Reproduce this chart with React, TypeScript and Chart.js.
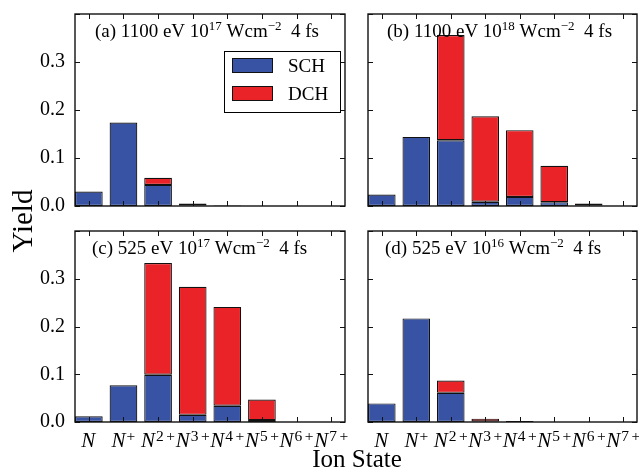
import React, { useEffect, useRef } from 'react';
import { Chart, registerables } from 'chart.js';

Chart.register(...registerables);

// ---- data ----
const chargeLabels = ['', '+', '2+', '3+', '4+', '5+', '6+', '7+'];
const yTickValues = [0, 0.1, 0.2, 0.3];
const seriesNames = ['SCH', 'DCH'];

const schA = [0.030, 0.174, 0.044, 0.001, 0.001, 0, 0, 0];
const dchA = [0, 0, 0.015, 0.004, 0, 0, 0, 0];
const schB = [0.024, 0.144, 0.137, 0.009, 0.019, 0.008, 0.001, 0];
const dchB = [0, 0, 0.219, 0.178, 0.139, 0.076, 0.004, 0];
const schC = [0.012, 0.077, 0.099, 0.015, 0.034, 0.004, 0, 0];
const dchC = [0, 0, 0.234, 0.268, 0.207, 0.043, 0, 0];
const schD = [0.039, 0.217, 0.061, 0.001, 0.002, 0, 0, 0];
const dchD = [0, 0, 0.026, 0.006, 0, 0, 0, 0];

const titleA: [string, boolean][] = [['(a) 1100 eV 10', false], ['17', true], [' Wcm', false], ['\u22122', true], ['  4 fs', false]];
const titleB: [string, boolean][] = [['(b) 1100 eV 10', false], ['18', true], [' Wcm', false], ['\u22122', true], ['  4 fs', false]];
const titleC: [string, boolean][] = [['(c) 525 eV 10', false], ['17', true], [' Wcm', false], ['\u22122', true], ['  4 fs', false]];
const titleD: [string, boolean][] = [['(d) 525 eV 10', false], ['16', true], [' Wcm', false], ['\u22122', true], ['  4 fs', false]];

// ---- style / layout ----
const W = 639;
const H = 471;
const BLUE = '#3953a4';
const RED = '#ea2328';
const SERIF = '"Liberation Serif", "Times New Roman", serif';
const X_MAX = 7.8;
const Y_AXIS_W = 70;

const panels = [
  { sch: schA, dch: dchA, title: titleA, box: { l: 75, r: 345, t: 14, b: 206 }, titleDx: 20, yLabels: true, xLabels: false, legend: true, global: true },
  { sch: schB, dch: dchB, title: titleB, box: { l: 368, r: 637, t: 14, b: 206 }, titleDx: 19, yLabels: false, xLabels: false, legend: false, global: false },
  { sch: schC, dch: dchC, title: titleC, box: { l: 75, r: 345, t: 231, b: 422 }, titleDx: 17, yLabels: true, xLabels: true, legend: false, global: false },
  { sch: schD, dch: dchD, title: titleD, box: { l: 368, r: 637, t: 231, b: 422 }, titleDx: 17, yLabels: false, xLabels: true, legend: false, global: false },
];

function drawRich(ctx: CanvasRenderingContext2D, parts: [string, boolean][], x: number, y: number, nf: string, sf: string, rise: number) {
  let cx = x;
  for (const [t, sup] of parts) {
    ctx.font = sup ? sf : nf;
    ctx.fillText(t, cx, sup ? y - rise : y);
    cx += ctx.measureText(t).width;
  }
}

const decorPlugin = {
  id: 'decor',
  afterDraw(chart: any) {
    const cfg = chart.options.plugins.decor;
    const ctx: CanvasRenderingContext2D = chart.ctx;
    const ca = chart.chartArea;
    const xs = chart.scales.x;
    const ys = chart.scales.y;
    ctx.save();
    // inward tick marks
    ctx.strokeStyle = '#111';
    ctx.lineWidth = 1;
    ctx.beginPath();
    for (const t of ys.ticks) {
      const py = Math.round(ys.getPixelForValue(t.value)) + 0.5;
      ctx.moveTo(ca.left, py); ctx.lineTo(ca.left + 5, py);
      ctx.moveTo(ca.right, py); ctx.lineTo(ca.right - 5, py);
    }
    for (const t of xs.ticks) {
      const px = Math.round(xs.getPixelForValue(t.value)) + 0.5;
      ctx.moveTo(px, ca.bottom); ctx.lineTo(px, ca.bottom - 5);
      ctx.moveTo(px, ca.top); ctx.lineTo(px, ca.top + 5);
    }
    ctx.stroke();
    // frame
    ctx.lineWidth = 1.4;
    ctx.strokeStyle = '#111';
    ctx.strokeRect(ca.left, ca.top, ca.right - ca.left, ca.bottom - ca.top);

    // panel title
    ctx.fillStyle = '#000';
    ctx.textAlign = 'left';
    ctx.textBaseline = 'alphabetic';
    drawRich(ctx, cfg.title, ca.left + cfg.titleDx, ca.top + 22.5, `19px ${SERIF}`, `13px ${SERIF}`, 7);

    // x tick labels (N, N^+, N^{2+} ...)
    if (cfg.xLabels) {
      xs.ticks.forEach((t: any, i: number) => {
        const px = xs.getPixelForValue(t.value);
        const charge: string = chargeLabels[i];
        const nf = `italic 21px ${SERIF}`;
        const sf = `15.5px ${SERIF}`;
        ctx.font = nf;
        const wN = ctx.measureText('N').width;
        ctx.font = sf;
        const digits = charge.replace('+', '');
        const wD = digits ? ctx.measureText(digits).width : 0;
        const wP = ctx.measureText('+').width;
        const gap = digits ? 2.5 : 0;
        const total = wN + 1 + (charge ? wD + gap + wP : 0);
        let cx = px - total / 2;
        const base = ca.bottom + 25;
        ctx.font = nf;
        ctx.fillText('N', cx, base);
        cx += wN + 1;
        if (charge) {
          ctx.font = sf;
          if (digits) { ctx.fillText(digits, cx, base - 6); cx += wD + gap; }
          ctx.fillText('+', cx, base - 6);
        }
      });
    }

    // legend
    if (cfg.legend) {
      const lx = ca.left + 149;
      const ly = ca.top + 37;
      ctx.fillStyle = '#fff';
      ctx.fillRect(lx, ly, 116, 61);
      ctx.strokeStyle = '#000';
      ctx.lineWidth = 1;
      ctx.strokeRect(lx + 0.5, ly + 0.5, 116, 61);
      chart.data.datasets.forEach((ds: any, i: number) => {
        const py = ly + 7 + i * 28;
        ctx.fillStyle = ds.backgroundColor;
        ctx.fillRect(lx + 8, py, 40, 14);
        ctx.strokeStyle = '#111';
        ctx.strokeRect(lx + 8.5, py + 0.5, 40, 14);
        ctx.fillStyle = '#000';
        ctx.font = `19px ${SERIF}`;
        ctx.textBaseline = 'alphabetic';
        ctx.fillText(ds.label, lx + 64, py + 14);
      });
    }

    // figure-level axis labels
    if (cfg.global) {
      ctx.fillStyle = '#000';
      ctx.textAlign = 'center';
      ctx.textBaseline = 'alphabetic';
      ctx.font = `25px ${SERIF}`;
      ctx.fillText('Ion State', 357, 467);
      ctx.save();
      ctx.translate(32, 221);
      ctx.rotate(-Math.PI / 2);
      ctx.font = `29px ${SERIF}`;
      ctx.fillText('Yield', 0, 0);
      ctx.restore();
    }
    ctx.restore();
  },
};

function Panel({ cfg }: { cfg: any }) {
  const ref = useRef<HTMLCanvasElement>(null);
  useEffect(() => {
    const canvas = ref.current!;
    const { l, r, t, b } = cfg.box;
    const mk = (arr: number[]) => arr.map((v, i) => ({ x: i + 0.4, y: v }));
    const chart = new Chart(canvas, {
      type: 'bar',
      data: {
        datasets: [
          { label: seriesNames[0], data: mk(cfg.sch), backgroundColor: BLUE, borderColor: '#111', borderWidth: 1.2, borderSkipped: false, barPercentage: 0.8, categoryPercentage: 1 },
          { label: seriesNames[1], data: mk(cfg.dch), backgroundColor: RED, borderColor: '#111', borderWidth: 1.2, borderSkipped: false, barPercentage: 0.8, categoryPercentage: 1 },
        ],
      } as any,
      options: {
        responsive: false,
        animation: false,
        devicePixelRatio: 1,
        layout: { padding: { left: l - Y_AXIS_W, right: W - r, top: t, bottom: H - b } },
        scales: {
          x: {
            type: 'linear',
            offset: false,
            stacked: true,
            min: 0,
            max: X_MAX,
            grid: { display: false, drawTicks: false, offset: false },
            border: { display: false },
            ticks: { display: false, padding: 0 },
            afterBuildTicks: (s: any) => { s.ticks = chargeLabels.map((_, i) => ({ value: i + 0.4 })); },
            afterFit: (s: any) => { s.height = 0; },
          },
          y: {
            stacked: true,
            min: 0,
            max: 0.4,
            grid: { display: false, drawTicks: true, tickLength: 10 },
            border: { display: false },
            afterBuildTicks: (s: any) => { s.ticks = [...yTickValues, 0.4].map((v) => ({ value: v })); },
            ticks: {
              display: cfg.yLabels,
              color: '#000',
              padding: 0,
              font: { family: 'Liberation Serif', size: 20 },
              callback: (v: any) => (Number(v) > 0.35 ? '' : Number(v).toFixed(1)),
            },
            afterFit: (s: any) => { s.width = Y_AXIS_W; },
          },
        },
        plugins: {
          legend: { display: false },
          tooltip: { enabled: false },
          decor: cfg,
        } as any,
      } as any,
      plugins: [decorPlugin],
    });
    return () => chart.destroy();
  }, []);
  return <canvas ref={ref} width={W} height={H} style={{ position: 'absolute', left: 0, top: 0, width: W, height: H }} />;
}

export default function App() {
  return (
    <div style={{ position: 'absolute', left: 0, top: 0, width: W, height: H, background: '#fff', overflow: 'hidden' }}>
      {panels.map((p, i) => (
        <Panel key={i} cfg={p} />
      ))}
    </div>
  );
}
